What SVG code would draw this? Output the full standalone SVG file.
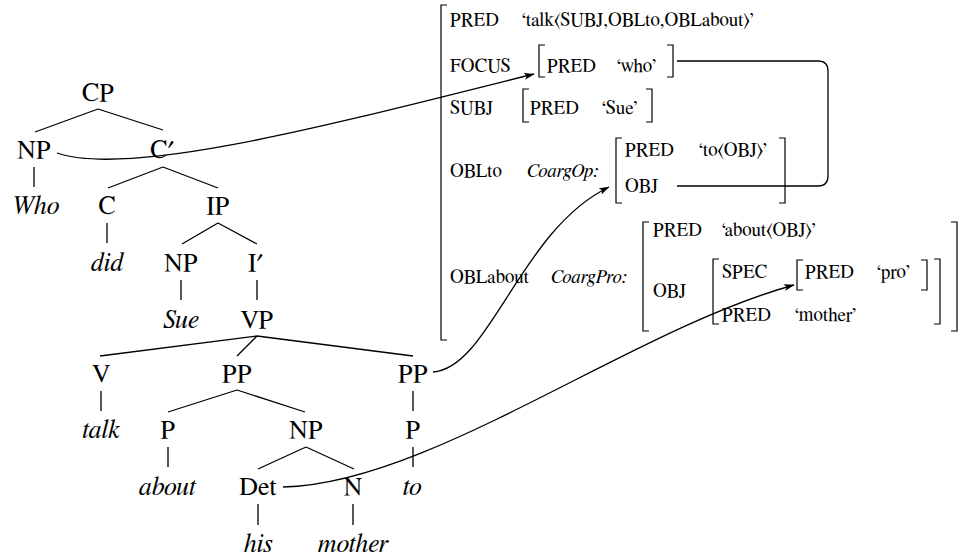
<svg xmlns="http://www.w3.org/2000/svg" width="966" height="557" viewBox="0 0 966 557">
  <style>
    text { font-family: FreeSerif, "DejaVu Serif", serif; fill: #000; }
    .t { font-size: 26px; text-anchor: middle; }
    .ts { font-size: 26px; }
    .it { font-style: italic; }
    .f { font-size: 19px; }
    .edge { stroke: #000; stroke-width: 1.3; fill: none; stroke-linecap: butt; }
    .br { stroke: #000; stroke-width: 1.2; fill: none; }
    .link { stroke: #000; stroke-width: 1.3; fill: none; }
  </style>
  <defs>
    <marker id="arr" markerUnits="userSpaceOnUse" markerWidth="11" markerHeight="8" refX="10" refY="4" orient="auto">
      <path d="M0,0.5 L10.5,4 L0,7.5 L2.5,4 Z" fill="#000"/>
    </marker>
  </defs>

  <!-- c-structure tree -->
  <g id="tree-edges">
    <path class="edge" d="M98,109 L35,132 M98,109 L163,130"/>
    <path class="edge" d="M34,167 V187"/>
    <path class="edge" d="M163,167 L108,188 M163,167 L218,188"/>
    <path class="edge" d="M107,223 V243"/>
    <path class="edge" d="M218,223 L182,244 M218,223 L257,244"/>
    <path class="edge" d="M181,280 V300 M257,280 V300"/>
    <path class="edge" d="M257,336 L100,356 M257,336 L237,356 M257,336 L413,356"/>
    <path class="edge" d="M101,391 V411 M413,391 V411"/>
    <path class="edge" d="M237,390 L168,412 M237,390 L305,412"/>
    <path class="edge" d="M168,447 V467 M413,447 V467"/>
    <path class="edge" d="M306,447 L258,469 M306,447 L354,469"/>
    <path class="edge" d="M258,504 V525 M353,504 V525"/>
  </g>

  <g id="n-cp"><text class="t" x="98" y="101">CP</text></g>
  <g id="n-np1"><text class="t" x="34" y="158">NP</text></g>
  <g id="n-cbar"><text class="ts" x="150" y="158">C′</text></g>
  <g id="n-who"><text class="t it" x="35" y="214">Who</text></g>
  <g id="n-c"><text class="t" x="107" y="214">C</text></g>
  <g id="n-ip"><text class="t" x="218" y="214">IP</text></g>
  <g id="n-did"><text class="t it" x="107" y="271">did</text></g>
  <g id="n-np2"><text class="t" x="181" y="271">NP</text></g>
  <g id="n-ibar"><text class="ts" x="248" y="271">I′</text></g>
  <g id="n-sue"><text class="t it" x="181" y="328">Sue</text></g>
  <g id="n-vp"><text class="t" x="257" y="328">VP</text></g>
  <g id="n-v"><text class="t" x="101" y="382">V</text></g>
  <g id="n-pp1"><text class="t" x="237" y="382">PP</text></g>
  <g id="n-pp2"><text class="t" x="413" y="382">PP</text></g>
  <g id="n-talk"><text class="t it" x="101" y="438">talk</text></g>
  <g id="n-p1"><text class="t" x="168" y="438">P</text></g>
  <g id="n-np3"><text class="t" x="306" y="438">NP</text></g>
  <g id="n-p2"><text class="t" x="413" y="438">P</text></g>
  <g id="n-about"><text class="t it" x="167" y="495">about</text></g>
  <g id="n-det"><text class="t" x="258" y="495">Det</text></g>
  <g id="n-n"><text class="t" x="353" y="495">N</text></g>
  <g id="n-to"><text class="t it" x="412" y="495">to</text></g>
  <g id="n-his"><text class="t it" x="258" y="552">his</text></g>
  <g id="n-mother"><text class="t it" x="353" y="552">mother</text></g>

  <!-- f-structure -->
  <g id="f-main">
    <path class="br" d="M447,5 H441 V340 H447"/>
    <text class="f" x="450" y="26">PRED</text>
    <text class="f" x="522" y="26">‘talk⟨SUBJ,OBLto,OBLabout⟩’</text>
    <text class="f" x="450" y="72">FOCUS</text>
    <text class="f" x="450" y="114">SUBJ</text>
    <text class="f" x="450" y="177">OBLto</text>
    <text class="f it" x="527" y="177">CoargOp:</text>
    <text class="f" x="450" y="283">OBLabout</text>
    <text class="f it" x="551" y="283">CoargPro:</text>
  </g>

  <g id="f-focus">
    <path class="br" d="M545,45 H539 V77 H545"/>
    <path class="br" d="M667,45 H673 V77 H667"/>
    <text class="f" x="547" y="72">PRED</text>
    <text class="f" x="617" y="72">‘who’</text>
  </g>

  <g id="f-subj">
    <path class="br" d="M529,89 H523 V122 H529"/>
    <path class="br" d="M646,89 H652 V122 H646"/>
    <text class="f" x="530" y="114">PRED</text>
    <text class="f" x="602" y="114">‘Sue’</text>
  </g>

  <g id="f-oblto">
    <path class="br" d="M622,138 H616 V203 H622"/>
    <path class="br" d="M779,138 H785 V203 H779"/>
    <text class="f" x="625" y="156">PRED</text>
    <text class="f" x="699" y="156">‘to⟨OBJ⟩’</text>
    <text class="f" x="625" y="192">OBJ</text>
  </g>

  <g id="f-oblabout">
    <path class="br" d="M649,222 H643 V331 H649"/>
    <path class="br" d="M951,222 H957 V331 H951"/>
    <text class="f" x="653" y="236">PRED</text>
    <text class="f" x="722" y="236">‘about⟨OBJ⟩’</text>
    <text class="f" x="653" y="297">OBJ</text>
  </g>

  <g id="f-obj">
    <path class="br" d="M719,259 H713 V324 H719"/>
    <path class="br" d="M934,259 H940 V324 H934"/>
    <text class="f" x="722" y="278">SPEC</text>
    <text class="f" x="722" y="321">PRED</text>
    <text class="f" x="795" y="321">‘mother’</text>
  </g>

  <g id="f-spec">
    <path class="br" d="M803,260 H797 V290 H803"/>
    <path class="br" d="M921,260 H927 V290 H921"/>
    <text class="f" x="805" y="278">PRED</text>
    <text class="f" x="877" y="278">‘pro’</text>
  </g>

  <!-- projection arrows and structure sharing line -->
  <g id="connectors">
    <path class="link" d="M57,153 C130,178 330,125 534,74" marker-end="url(#arr)"/>
    <path class="link" d="M433,372 C490,368 520,230 609,187" marker-end="url(#arr)"/>
    <path class="link" d="M283,487 C430,484 630,330 794,285" marker-end="url(#arr)"/>
    <path class="link" d="M677,61 H818 Q828,61 828,71 V176 Q828,186 818,186 H677"/>
  </g>
</svg>
